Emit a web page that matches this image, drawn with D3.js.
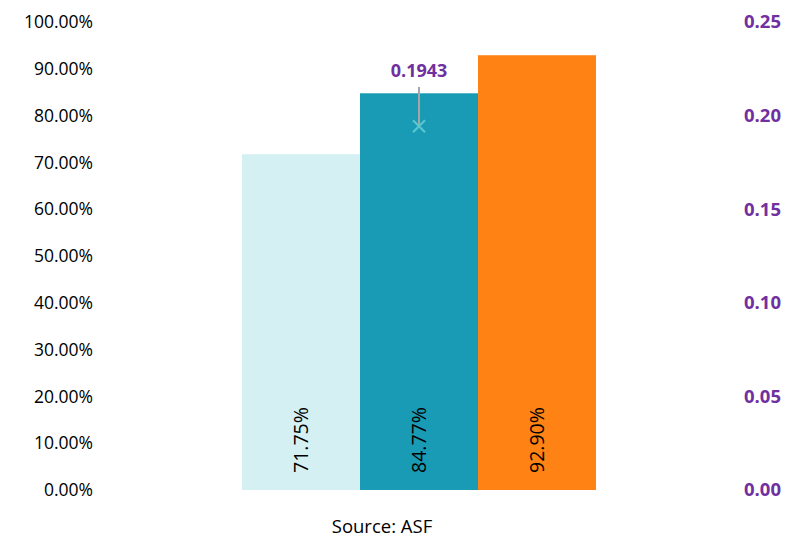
<!DOCTYPE html>
<html>
<head>
<meta charset="utf-8">
<script src="https://cdn.jsdelivr.net/npm/d3@7"></script>
<style>
    body { margin: 0; background: #fff; }
    #chart { width: 797px; height: 539px; }
    text { font-family: "Open Sans", sans-serif; }
</style>
</head>
<body>
<div id="chart"></div>
<script>

// data
let categories = ["A", "B", "C"];
let barValues = [0.7175, 0.8477, 0.9290];
let barColors = ["#D4F0F3", "#1A9BB5", "#FF8214"];
let pointCategory = "B";
let pointValue = 0.1943;
let leftTicks = [0, 0.1, 0.2, 0.3, 0.4, 0.5, 0.6, 0.7, 0.8, 0.9, 1.0];
let rightTicks = [0, 0.05, 0.10, 0.15, 0.20, 0.25];
let sourceText = "Source: ASF";


class ComboVis {

    constructor(parentElement){
        this.parentElement = parentElement;
        this.initVis();
    }

    initVis(){
        let vis = this;

        vis.svg = d3.select("#" + vis.parentElement).append("svg")
            .attr("width", 797)
            .attr("height", 539);

        // plot area
        vis.top = 22;
        vis.bottom = 490;

        vis.y = d3.scaleLinear()
            .domain([0, 1])
            .range([vis.bottom, vis.top]);

        vis.y2 = d3.scaleLinear()
            .domain([0, 0.25])
            .range([vis.bottom, vis.top]);

        vis.x = d3.scaleBand()
            .domain(categories)
            .range([242, 596])
            .padding(0);

        vis.yAxis = d3.axisLeft(vis.y)
            .tickValues(leftTicks)
            .tickFormat(d3.format(".2%"))
            .tickSize(0)
            .tickPadding(0);

        vis.y2Axis = d3.axisRight(vis.y2)
            .tickValues(rightTicks)
            .tickFormat(d3.format(".2f"))
            .tickSize(0)
            .tickPadding(0);

        vis.updateVis();
    }

    updateVis(){
        let vis = this;

        // left axis
        let yg = vis.svg.append("g")
            .attr("transform", "translate(93,0)")
            .call(vis.yAxis);
        yg.select(".domain").remove();
        yg.selectAll("text")
            .attr("font-family", "'Open Sans', sans-serif")
            .attr("font-size", 17.5)
            .attr("fill", "#000");

        // right axis
        let y2g = vis.svg.append("g")
            .attr("transform", "translate(744,0)")
            .call(vis.y2Axis);
        y2g.select(".domain").remove();
        y2g.selectAll("text")
            .attr("font-family", "'Open Sans', sans-serif")
            .attr("font-size", 18.5)
            .attr("font-weight", "bold")
            .attr("fill", "#7030A0");

        let bars = categories.map((c, i) => ({cat: c, value: barValues[i], color: barColors[i]}));

        // bars
        vis.svg.selectAll(".bar")
            .data(bars)
            .join("rect")
            .attr("class", "bar")
            .attr("x", d => vis.x(d.cat))
            .attr("width", vis.x.bandwidth())
            .attr("y", d => vis.y(d.value))
            .attr("height", d => vis.y(0) - vis.y(d.value))
            .attr("fill", d => d.color);

        // rotated bar labels
        vis.svg.selectAll(".bar-label")
            .data(bars)
            .join("text")
            .attr("class", "bar-label")
            .attr("transform", d => `translate(${vis.x(d.cat) + vis.x.bandwidth() / 2 + 7}, ${vis.y(0) - 17}) rotate(-90)`)
            .attr("text-anchor", "start")
            .attr("font-size", 19.5)
            .attr("fill", "#000")
            .text(d => d3.format(".2%")(d.value));

        // point on secondary axis
        let px = vis.x(pointCategory) + vis.x.bandwidth() / 2;
        let py = vis.y2(pointValue);

        vis.svg.append("line")
            .attr("x1", px).attr("x2", px)
            .attr("y1", 87).attr("y2", py)
            .attr("stroke", "#A6A6A6")
            .attr("stroke-width", 2);

        let s = 6;
        vis.svg.append("path")
            .attr("d", `M${px - s},${py - s}L${px + s},${py + s}M${px - s},${py + s}L${px + s},${py - s}`)
            .attr("stroke", "#5BC8CE")
            .attr("stroke-width", 2)
            .attr("fill", "none");

        vis.svg.append("text")
            .attr("x", px)
            .attr("y", 77)
            .attr("text-anchor", "middle")
            .attr("font-size", 18)
            .attr("font-weight", "bold")
            .attr("fill", "#7030A0")
            .text(d3.format(".4f")(pointValue));

        // source
        vis.svg.append("text")
            .attr("x", 382)
            .attr("y", 533)
            .attr("text-anchor", "middle")
            .attr("font-size", 18.5)
            .attr("fill", "#000")
            .text(sourceText);
    }
}

new ComboVis("chart");
</script>
</body>
</html>
